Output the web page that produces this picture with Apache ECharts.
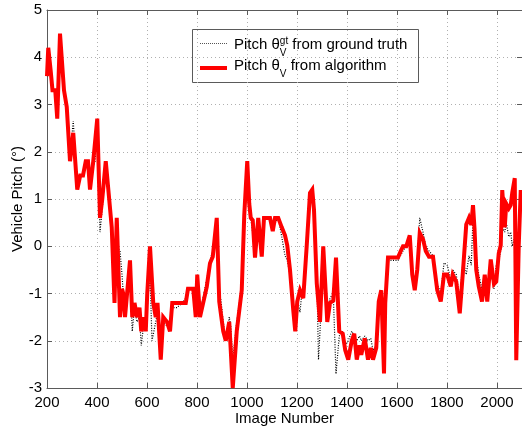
<!DOCTYPE html>
<html>
<head>
<meta charset="utf-8">
<script src="https://cdn.jsdelivr.net/npm/echarts@6/dist/echarts.min.js"></script>
<style>
  html, body { margin: 0; padding: 0; background: #fff; }
  #app { width: 522px; height: 430px; }
</style>
</head>
<body>
<div id="app"></div>
<script>
// pitch from the algorithm (red)
var algoX = [200, 205, 215, 222, 233, 241, 252, 268, 279, 292, 305, 321, 333, 344, 355, 364, 372, 385, 392, 401,
    412, 421, 435, 459, 470, 479, 492, 500, 505, 512, 532, 541, 550, 560, 570, 577, 588, 595, 601, 612,
    625, 635, 642, 655, 665, 680, 692, 701, 755, 764, 785, 795, 801, 812, 839, 852, 863, 879, 889, 897,
    905, 915, 929, 935, 943, 959, 979, 989, 1001, 1009, 1015, 1023, 1032, 1045, 1059, 1068, 1079, 1092, 1103, 1112,
    1125, 1139, 1152, 1161, 1172, 1185, 1193, 1201, 1212, 1219, 1225, 1239, 1252, 1261, 1268, 1279, 1292, 1305, 1321, 1332,
    1345, 1356, 1369, 1383, 1393, 1405, 1419, 1429, 1439, 1450, 1457, 1471, 1484, 1495, 1504, 1517, 1527, 1537, 1548, 1553,
    1564, 1577, 1604, 1615, 1624, 1637, 1651, 1661, 1671, 1681, 1691, 1704, 1715, 1728, 1744, 1761, 1775, 1788, 1801, 1815,
    1823, 1837, 1851, 1864, 1877, 1888, 1897, 1904, 1910, 1917, 1927, 1940, 1951, 1961, 1975, 1988, 1997, 2007, 2015, 2021,
    2031, 2037, 2047, 2055, 2061, 2071, 2077, 2087, 2095, 2100];
var algoY = [3.6, 4.2, 3.7, 3.3, 3.3, 2.7, 4.5, 3.3, 2.95, 1.8, 2.4, 1.2, 1.5, 1.5, 1.8, 1.8, 1.2, 1.8, 1.8, 2.7,
    0.6, 1.0, 1.8, 0.4, -1.2, 0.6, -1.5, -0.9, -1.0, -1.5, -0.3, -1.5, -1.2, -1.5, -1.3, -1.8, -1.5, -1.8, -1.0, 0.0,
    -1.2, -1.5, -1.2, -2.4, -1.5, -1.6, -1.8, -1.2, -1.2, -0.9, -0.9, -1.5, -0.6, -1.5, -0.86, -0.36, -0.22, 0.6, -1.17, -1.2,
    -1.8, -2.0, -1.6, -1.6, -3.0, -1.8, -0.93, 0.66, 1.8, 0.9, 0.6, 0.55, -0.24, 0.6, -0.22, 0.6, 0.6, 0.6, 0.32, 0.6,
    0.6, 0.4, 0.23, 0.02, -0.5, -1.35, -1.8, -1.17, -0.93, -0.93, -1.1, 0.02, 1.13, 1.2, 0.77, -0.78, -1.6, 0.0, -1.6, -1.2,
    -1.15, -0.24, -1.8, -1.85, -2.2, -2.4, -2.0, -1.85, -2.4, -2.1, -2.3, -1.95, -2.4, -2.15, -2.4, -2.15, -1.17, -0.93, -2.69, -1.2,
    -0.24, -0.24, -0.24, -0.1, 0.0, 0.0, 0.23, -0.6, -0.93, -0.5, 0.28, 0.15, -0.1, -0.22, -0.22, -0.93, -1.17, -0.6, -0.6, -0.85,
    -0.6, -0.75, -1.42, -0.52, 0.46, 0.6, 0.45, 0.87, 0.38, -0.5, -0.85, -1.17, -0.6, -1.17, -0.28, -0.8, -0.75, -0.15, 0.02, 1.19,
    0.4, 0.9, 0.8, 0.87, 1.13, 1.44, -2.41, 0.02, 1.19, 0.8];

// pitch from ground truth (black dotted)
var gtX = [200, 205, 215, 222, 233, 241, 252, 268, 279, 292, 305, 321, 333, 344, 355, 364, 372, 385, 392, 401,
    412, 421, 435, 459, 470, 479, 492, 500, 505, 512, 532, 541, 550, 560, 570, 577, 588, 595, 601, 612,
    620, 635, 642, 655, 665, 680, 692, 701, 720, 740, 755, 764, 785, 795, 801, 812, 839, 852, 863, 879,
    889, 897, 905, 915, 929, 935, 943, 959, 979, 989, 1001, 1009, 1015, 1032, 1045, 1059, 1068, 1092, 1103, 1125,
    1139, 1152, 1161, 1172, 1185, 1193, 1201, 1212, 1219, 1225, 1239, 1252, 1261, 1268, 1279, 1286, 1292, 1305, 1321, 1332,
    1345, 1356, 1369, 1383, 1393, 1405, 1419, 1429, 1439, 1450, 1457, 1471, 1484, 1495, 1504, 1517, 1527, 1537, 1548, 1553,
    1564, 1604, 1624, 1651, 1661, 1671, 1681, 1691, 1704, 1715, 1728, 1744, 1761, 1775, 1788, 1801, 1815, 1823, 1837, 1851,
    1864, 1877, 1888, 1897, 1904, 1910, 1917, 1927, 1940, 1951, 1961, 1975, 1988, 1997, 2007, 2015, 2021, 2031, 2037, 2047,
    2055, 2061, 2071, 2077, 2087, 2095, 2100];
var gtY = [3.6, 4.1, 3.7, 3.3, 3.3, 2.8, 4.4, 3.3, 2.9, 1.9, 2.65, 1.3, 1.5, 1.5, 1.75, 1.7, 1.3, 1.7, 1.8, 2.5,
    0.3, 0.8, 1.7, 0.3, -0.2, 0.0, -0.1, -0.6, -1.0, -1.3, -0.5, -1.8, -1.3, -1.6, -1.5, -2.1, -1.6, -1.7, -1.3, -0.6,
    -2.0, -1.6, -1.4, -2.2, -1.6, -1.7, -1.7, -1.3, -1.3, -1.2, -1.1, -0.9, -0.9, -1.3, -0.8, -1.4, -0.7, -0.3, -0.1, 0.6,
    -0.9, -1.2, -1.6, -2.0, -1.5, -1.7, -2.4, -1.6, -0.8, 0.6, 1.6, 0.9, 0.6, -0.1, 0.5, -0.1, 0.6, 0.6, 0.4, 0.6,
    0.2, -0.2, -0.3, -0.6, -1.3, -1.6, -1.1, -1.4, -1.0, -0.9, 0.0, 1.1, 1.1, 0.6, -0.5, -2.4, -1.8, -0.1, -1.4, -1.1,
    -1.0, -2.7, -1.9, -1.8, -2.1, -2.0, -1.8, -1.9, -2.0, -1.9, -2.0, -1.9, -2.0, -1.95, -2.2, -2.1, -1.3, -1.0, -2.5, -1.2,
    -0.3, -0.3, -0.1, 0.1, -0.5, -0.9, -0.3, 0.6, 0.3, 0.0, -0.1, -0.2, -0.8, -1.0, -0.35, -0.4, -0.7, -0.5, -0.6, -1.1,
    -0.3, -0.6, -0.2, -0.4, 0.6, 0.3, -0.2, -0.6, -0.9, -0.7, -0.9, -0.5, -0.9, -0.4, -0.3, -0.1, 0.4, 0.3, 0.5, 0.2,
    0.3, 0.0, 0.2, -2.3, 0.0, 1.0, 0.8];

var xTicks = [200, 400, 600, 800, 1000, 1200, 1400, 1600, 1800, 2000];
var yTicks = [-3, -2, -1, 0, 1, 2, 3, 4, 5];

function pairs(xs, ys) {
    var out = [];
    for (var i = 0; i < xs.length; i++) {
        out.push([xs[i], ys[i]]);
    }
    return out;
}

var FONT = '"Liberation Sans", Arial, sans-serif';
var AXIS_COLOR = '#5a5a5a';

// measure text so the sub/superscripts of the legend sit right after theta
var measureCtx = document.createElement('canvas').getContext('2d');
function textWidth(str, size) {
    measureCtx.font = size + 'px ' + FONT;
    return measureCtx.measureText(str).width;
}

function legendLine(y, sup, rest) {
    var x0 = 234;
    var w = textWidth('Pitch \u03b8', 15);
    var wSub = textWidth('V', 10);
    var wSup = sup ? textWidth(sup, 10) : 0;
    var items = [
        {type: 'text', style: {x: x0, y: y, text: 'Pitch \u03b8', font: '15px ' + FONT, fill: '#000', verticalAlign: 'middle'}},
        {type: 'text', style: {x: x0 + w, y: y + 8, text: 'V', font: '10px ' + FONT, fill: '#000', verticalAlign: 'middle'}}
    ];
    if (sup) {
        items.push({type: 'text', style: {x: x0 + w, y: y - 4, text: sup, font: '10px ' + FONT, fill: '#000', verticalAlign: 'middle'}});
    }
    items.push({type: 'text', style: {x: x0 + w + Math.max(wSub, wSup), y: y, text: rest, font: '15px ' + FONT, fill: '#000', verticalAlign: 'middle'}});
    return items;
}

var legendItems = [
    {type: 'rect', shape: {x: 192.5, y: 29.5, width: 226, height: 53}, style: {fill: '#fff', stroke: AXIS_COLOR, lineWidth: 1}},
    {type: 'line', shape: {x1: 200, y1: 43.5, x2: 227, y2: 43.5}, style: {stroke: '#555', lineWidth: 1, lineDash: [1, 1]}},
    {type: 'line', shape: {x1: 200, y1: 68, x2: 227, y2: 68}, style: {stroke: '#ff0000', lineWidth: 4}}
].concat(legendLine(45, 'gt', ' from ground truth'), legendLine(66, null, ' from algorithm'));

var commonX = {
    type: 'value',
    min: 200,
    max: 2100,
    interval: 200,
    nameMoveOverlap: false,
    axisLine: {show: true, onZero: false, lineStyle: {color: AXIS_COLOR, width: 1}},
    axisTick: {show: true, inside: true, length: 5, lineStyle: {color: AXIS_COLOR}}
};
var commonY = {
    type: 'value',
    min: -3,
    max: 5,
    interval: 1,
    nameMoveOverlap: false,
    axisLine: {show: true, onZero: false, lineStyle: {color: AXIS_COLOR, width: 1}},
    axisTick: {show: true, inside: true, length: 5, lineStyle: {color: AXIS_COLOR}}
};

var option = {
    backgroundColor: '#fff',
    animation: false,
    grid: {left: 47, top: 10, width: 475, height: 378, containLabel: false, outerBoundsMode: 'none'},
    xAxis: [
        echarts.util.merge({
            position: 'bottom',
            name: 'Image Number',
            nameLocation: 'middle',
            nameGap: 23,
            nameTextStyle: {fontFamily: FONT, fontSize: 15, color: '#000'},
            axisLabel: {
                fontFamily: FONT, fontSize: 15, color: '#000', margin: 7, showMaxLabel: false,
                formatter: function (v) { return xTicks.indexOf(v) >= 0 ? String(v) : ''; }
            },
            splitLine: {show: true, lineStyle: {color: '#b0b0b0', type: [1, 3], width: 1}}
        }, commonX, true),
        echarts.util.merge({position: 'top', axisLabel: {show: false}, splitLine: {show: false}}, commonX, true)
    ],
    yAxis: [
        echarts.util.merge({
            position: 'left',
            name: 'Vehicle Pitch (\u00b0)',
            nameLocation: 'middle',
            nameGap: 22,
            nameTextStyle: {fontFamily: FONT, fontSize: 15, color: '#000'},
            axisLabel: {
                fontFamily: FONT, fontSize: 15, color: '#000', margin: 5,
                formatter: function (v) { return yTicks.indexOf(v) >= 0 ? String(v) : ''; }
            },
            splitLine: {show: true, lineStyle: {color: '#b0b0b0', type: [1, 3], width: 1}}
        }, commonY, true),
        echarts.util.merge({position: 'right', axisLabel: {show: false}, splitLine: {show: false}}, commonY, true)
    ],
    series: [
        {
            name: 'ground truth',
            type: 'line',
            data: pairs(gtX, gtY),
            showSymbol: false,
            symbol: 'none',
            z: 2,
            lineStyle: {color: '#000', width: 1.2, type: [1, 1.5]}
        },
        {
            name: 'algorithm',
            type: 'line',
            data: pairs(algoX, algoY),
            showSymbol: false,
            symbol: 'none',
            z: 3,
            lineStyle: {color: '#ff0000', width: 4, join: 'miter', miterLimit: 4}
        }
    ],
    graphic: legendItems
};

var myChart = echarts.init(document.getElementById('app'), null, {renderer: 'canvas'});
myChart.setOption(option);
</script>
</body>
</html>
